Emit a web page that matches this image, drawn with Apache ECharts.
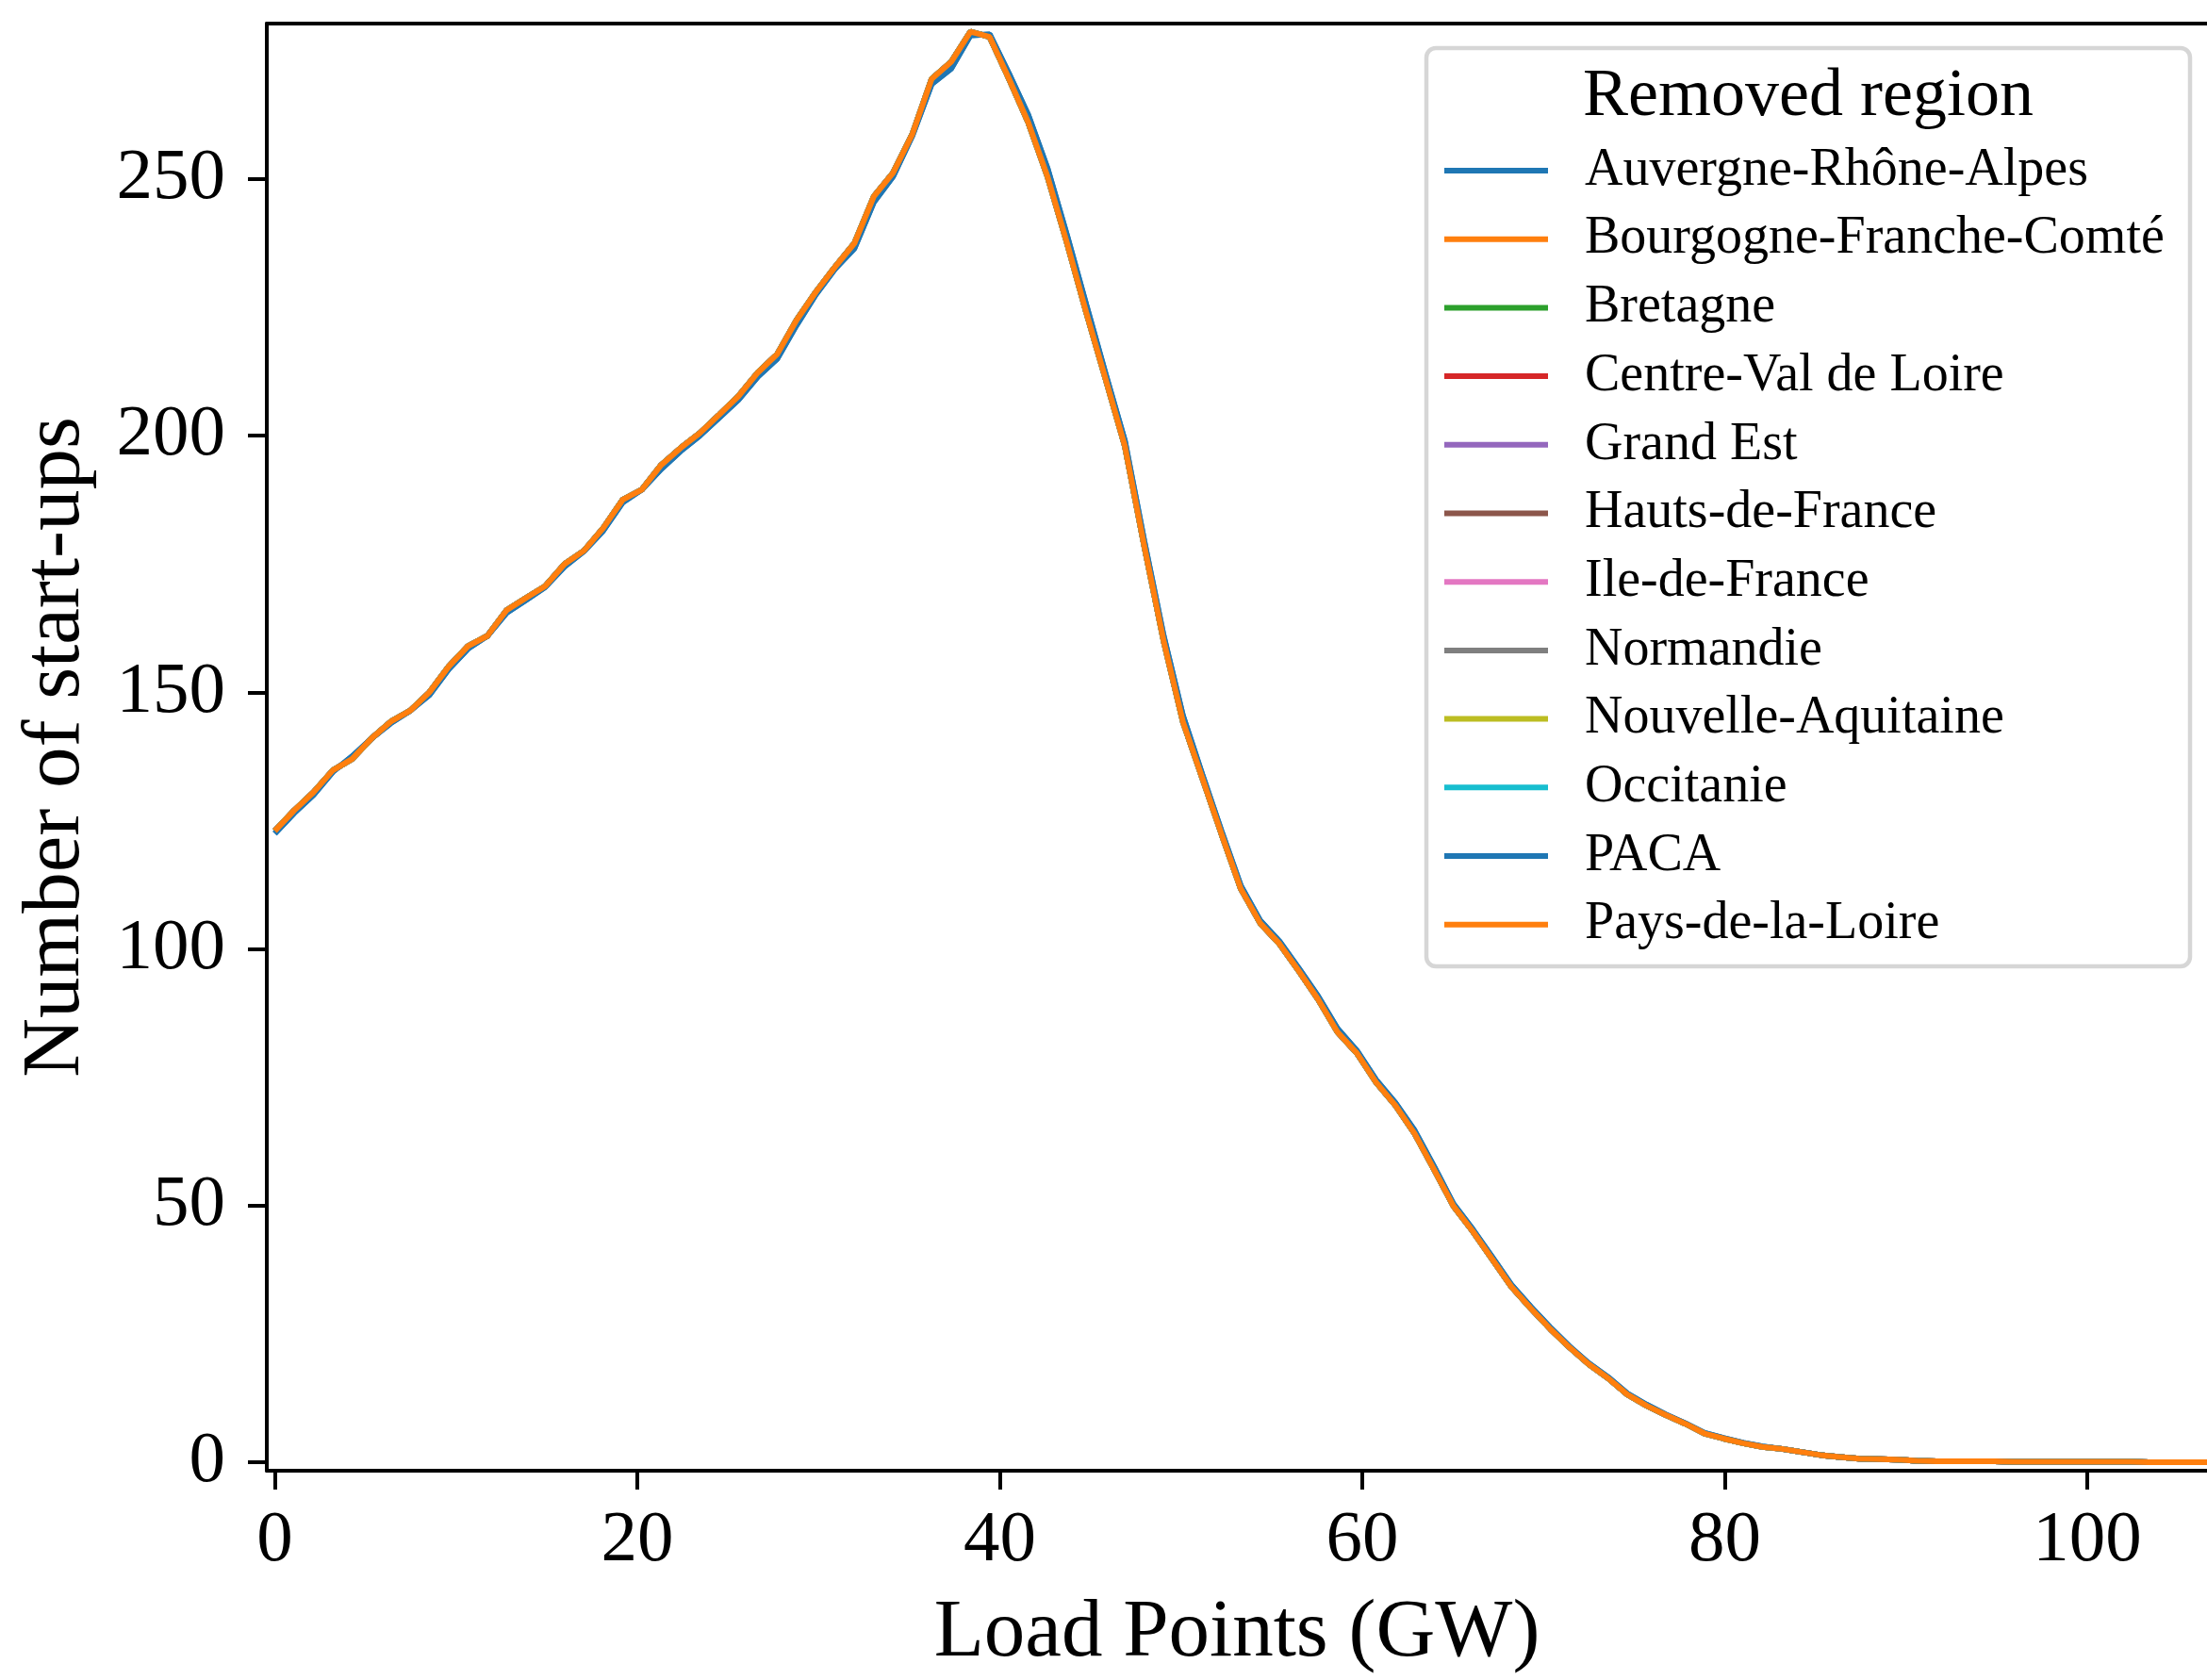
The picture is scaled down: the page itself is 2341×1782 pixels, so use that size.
<!DOCTYPE html>
<html>
<head>
<meta charset="utf-8">
<script src="https://cdn.jsdelivr.net/npm/echarts@6/dist/echarts.min.js"></script>
<style>
  html, body { margin: 0; padding: 0; background: #fff; }
  #chart { width: 2341px; height: 1782px; }
</style>
</head>
<body>
<div id="chart"></div>
<script>
// load levels (GW) at which start-ups are counted
const loadPoints = [
  0, 1.07, 2.13, 3.2, 4.26, 5.33, 6.4, 7.46, 8.53, 9.59,
  10.66, 11.73, 12.79, 13.86, 14.92, 15.99, 17.06, 18.12, 19.19, 20.25,
  21.32, 22.39, 23.45, 24.52, 25.58, 26.65, 27.72, 28.78, 29.85, 30.91,
  31.98, 33.05, 34.11, 35.18, 36.24, 37.31, 38.38, 39.44, 40.51, 41.57,
  42.64, 43.71, 44.77, 45.84, 46.9, 47.97, 49.04, 50.1, 51.17, 52.23,
  53.3, 54.37, 55.43, 56.5, 57.56, 58.63, 59.7, 60.76, 61.83, 62.89,
  63.96, 65.03, 66.09, 67.16, 68.22, 69.29, 70.36, 71.42, 72.49, 73.55,
  74.62, 75.69, 76.75, 77.82, 78.88, 79.95, 81.02, 82.08, 83.15, 84.21,
  85.28, 86.35, 87.41, 88.48, 89.54, 90.61, 91.68, 92.74, 93.81, 94.87,
  95.94, 97.01, 98.07, 99.14, 100.2, 101.27, 102.34, 103.4, 104.47, 105.53,
  106.6
]

// most regions give (almost) the same curve
const startupsShared = [
  123, 127, 130.5, 134.8, 137, 141, 144.3, 146.4, 150, 155,
  159, 161, 166, 168.4, 170.7, 175, 177.6, 182, 187.5, 189.5,
  194.3, 197.6, 200.5, 204.1, 207.7, 212.3, 215.9, 222.5, 228, 232.9,
  237.5, 246.6, 251.2, 258.8, 269.5, 272.8, 278.7, 277.7, 269.5, 261,
  250.4, 237.5, 224, 211, 198, 178.5, 160, 144.3, 133.3, 122.4,
  111.7, 105, 101, 95.7, 90.2, 83.8, 79.7, 74, 69.5, 64,
  57, 49.9, 45, 39.6, 34.2, 30, 26, 22.4, 19.1, 16.4,
  13.2, 11, 9.2, 7.5, 5.6, 4.6, 3.7, 3, 2.6, 2,
  1.4, 1, 0.7, 0.6, 0.5, 0.3, 0.2, 0.2, 0.2, 0.2,
  0.1, 0.1, 0.1, 0.1, 0.1, 0.1, 0.1, 0, 0, 0,
  0
]

// the blue curves peek out a little around the peak
const startupsBlue = [
  122.5, 126.5, 130, 134.5, 137.5, 141, 144, 146.4, 149.5, 154.5,
  158.5, 161, 165.5, 168, 170.5, 174.5, 177.5, 181.5, 187, 189.5,
  193.5, 197, 200, 203.5, 207, 211.5, 215, 221.5, 227.5, 232.5,
  236.5, 245.5, 250.5, 258.5, 268.5, 271.5, 278, 278.2, 270.5, 262.5,
  252, 239, 225.5, 212, 199, 179.5, 161, 145.5, 134, 123,
  112.3, 105.5, 101.5, 96.2, 90.8, 84.5, 80.2, 74.5, 70, 64.6,
  57.6, 50.3, 45.4, 40, 34.6, 30.3, 26.3, 22.6, 19.3, 16.6,
  13.4, 11.2, 9.3, 7.6, 5.7, 4.7, 3.8, 3.1, 2.6, 2,
  1.4, 1, 0.7, 0.6, 0.5, 0.3, 0.2, 0.2, 0.2, 0.2,
  0.1, 0.1, 0.1, 0.1, 0.1, 0.1, 0.1, 0, 0, 0,
  0
]

const regions = [
  'Auvergne-Rhône-Alpes', 'Bourgogne-Franche-Comté', 'Bretagne', 'Centre-Val de Loire',
  'Grand Est', 'Hauts-de-France', 'Ile-de-France', 'Normandie',
  'Nouvelle-Aquitaine', 'Occitanie', 'PACA', 'Pays-de-la-Loire'
]
const regionValues = [
  startupsBlue, startupsShared, startupsShared, startupsShared,
  startupsShared, startupsShared, startupsShared, startupsShared,
  startupsShared, startupsShared, startupsBlue, startupsShared
]

const xTicks = [0, 20, 40, 60, 80, 100]
const yTicks = [0, 50, 100, 150, 200, 250]

const palette = ['#1f77b4', '#ff7f0e', '#2ca02c', '#d62728', '#9467bd', '#8c564b',
  '#e377c2', '#7f7f7f', '#bcbd22', '#17becf', '#1f77b4', '#ff7f0e']

const font = 'Liberation Serif'
const black = '#000'

const chart = echarts.init(document.getElementById('chart'), null, { renderer: 'canvas' })

chart.setOption({
  animation: false,
  backgroundColor: '#fff',
  color: palette,
  textStyle: { fontFamily: font },
  grid: { left: 283, top: 25, right: 0, bottom: 217 },
  xAxis: [{
    type: 'value',
    min: -0.44,
    max: 106.6,
    name: 'Load Points (GW)',
    nameLocation: 'middle',
    nameGap: 130,
    nameTextStyle: { fontFamily: font, fontSize: 87, color: black },
    axisLine: { onZero: false, lineStyle: { color: black, width: 4 } },
    axisTick: { customValues: xTicks, length: 20, lineStyle: { color: black, width: 4 } },
    axisLabel: { customValues: xTicks, margin: 36, fontFamily: font, fontSize: 77, color: black },
    splitLine: { show: false }
  }, {
    type: 'value',
    position: 'top',
    min: -0.44,
    max: 106.6,
    axisLine: { onZero: false, lineStyle: { color: black, width: 4 } },
    axisTick: { show: false },
    axisLabel: { show: false },
    splitLine: { show: false }
  }],
  yAxis: {
    type: 'value',
    min: -1.65,
    max: 280.3,
    name: 'Number of start-ups',
    nameLocation: 'middle',
    nameGap: 179,
    nameTextStyle: { fontFamily: font, fontSize: 87, color: black },
    axisLine: { show: true, onZero: false, lineStyle: { color: black, width: 4 } },
    axisTick: { show: true, customValues: yTicks, length: 20, lineStyle: { color: black, width: 4 } },
    axisLabel: { customValues: yTicks, margin: 44, fontFamily: font, fontSize: 77, color: black },
    splitLine: { show: false }
  },
  legend: {
    orient: 'vertical',
    left: 1532,
    top: 151,
    padding: 0,
    icon: 'rect',
    itemWidth: 110,
    itemHeight: 6,
    itemGap: 12.7,
    data: regions,
    textStyle: { fontFamily: font, fontSize: 56, lineHeight: 60, color: black, padding: [0, 0, 0, 34] }
  },
  graphic: [{
    type: 'rect',
    z: 3,
    shape: { x: 1513, y: 51, width: 810, height: 974, r: 10 },
    style: { fill: '#fff', stroke: '#d6d6d6', lineWidth: 4.5 }
  }, {
    type: 'text',
    z: 5,
    x: 1918,
    y: 103,
    style: {
      text: 'Removed region',
      font: '72px "Liberation Serif"',
      fill: black,
      textAlign: 'center',
      textVerticalAlign: 'middle'
    }
  }],
  series: regions.map((name, i) => ({
    name,
    type: 'line',
    symbol: 'none',
    lineStyle: { width: 6 },
    data: loadPoints.map((x, k) => [x, regionValues[i][k]])
  }))
})
</script>
</body>
</html>
